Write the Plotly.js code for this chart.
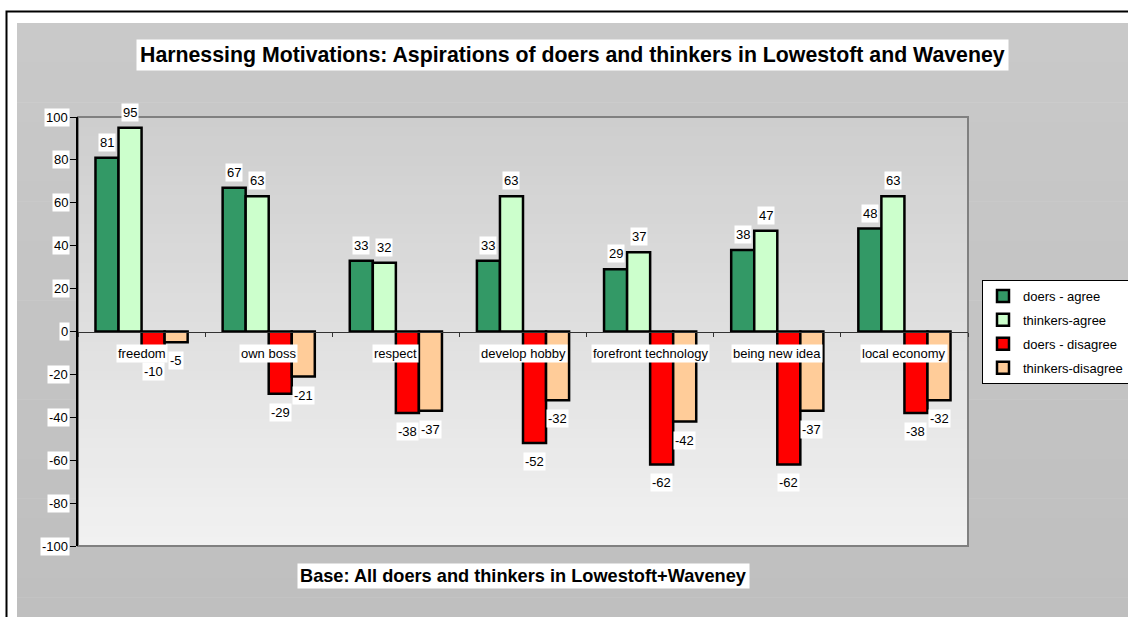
<!DOCTYPE html>
<html>
<head>
<meta charset="utf-8">
<script src="https://cdn.plot.ly/plotly-3.0.1.min.js"></script>
<style>
  html, body { margin: 0; padding: 0; background: #ffffff; }
  #chart { width: 1128px; height: 617px; }
</style>
</head>
<body>
<div id="chart"></div>
<script>
// ---- data ----
var categories = ["freedom", "own boss", "respect", "develop hobby", "forefront technology", "being new idea", "local economy"];
var doersAgree = [81, 67, 33, 33, 29, 38, 48];
var thinkersAgree = [95, 63, 32, 63, 37, 47, 63];
var doersDisagree = [-10, -29, -38, -52, -62, -62, -38];
var thinkersDisagree = [-5, -21, -37, -32, -42, -37, -32];
var seriesNames = ["doers - agree", "thinkers-agree", "doers - disagree", "thinkers-disagree"];
var yTickVals = [100, 80, 60, 40, 20, 0, -20, -40, -60, -80, -100];
var titleText = "Harnessing Motivations: Aspirations of doers and thinkers in Lowestoft and Waveney";
var footText = "Base: All doers and thinkers in Lowestoft+Waveney";

// ---- styling ----
var colors = ["#339966", "#CCFFCC", "#FF0000", "#FFCC99"];
var FONT = "Liberation Sans, Arial, sans-serif";
var W = 1128, H = 617;
var L = 78, R = 968, T = 117, B = 546;
var PW = R - L, PH = B - T;
var BARGAP = 0.275;
function px2x(px) { return (px - L) / PW; }
function px2y(py) { return (B - py) / PH; }

var allSeries = [doersAgree, thinkersAgree, doersDisagree, thinkersDisagree];
var traces = allSeries.map(function (vals, k) {
  return {
    type: "bar",
    name: seriesNames[k],
    x: categories,
    y: vals,
    marker: { color: colors[k], line: { color: "#000000", width: 2.5 } },
    legendgroup: "g" + k,
    hoverinfo: "skip"
  };
});

var shapes = [];
// outer black frame
shapes.push({ type: "rect", xref: "paper", yref: "paper", layer: "below",
  x0: px2x(6.5), x1: px2x(1200), y0: px2y(700), y1: px2y(11.5),
  line: { color: "#000000", width: 2 }, fillcolor: "#ffffff" });
// outer gray panel (subtle gradient)
var nOuter = 30;
for (var i = 0; i < nOuter; i++) {
  var ya = 23 + (617 - 23) * i / nOuter, yb = 23 + (617 - 23) * (i + 1) / nOuter + 0.5;
  var c = Math.round(201 - (201 - 191) * i / (nOuter - 1));
  shapes.push({ type: "rect", xref: "paper", yref: "paper", layer: "below",
    x0: px2x(17), x1: px2x(1200), y0: px2y(yb), y1: px2y(ya),
    line: { width: 0 }, fillcolor: "rgb(" + c + "," + c + "," + c + ")" });
}
// plot area gradient
var nIn = 44;
for (var j = 0; j < nIn; j++) {
  var y0p = j / nIn, y1p = (j + 1) / nIn + 0.002;
  var cc = Math.round(241 - (241 - 206) * j / (nIn - 1));
  shapes.push({ type: "rect", xref: "paper", yref: "paper", layer: "below",
    x0: 0, x1: 1, y0: y0p, y1: Math.min(y1p, 1),
    line: { width: 0 }, fillcolor: "rgb(" + cc + "," + cc + "," + cc + ")" });
}
// plot area border
shapes.push({ type: "rect", xref: "paper", yref: "paper", layer: "below",
  x0: 0, x1: 1, y0: 0, y1: 1, line: { color: "#808080", width: 2 } });

var annotations = [];
// title & footnote
annotations.push({ xref: "paper", yref: "paper", x: px2x(572), y: px2y(55),
  xanchor: "center", yanchor: "middle", showarrow: false,
  text: "<b>" + titleText + "</b>", bgcolor: "#ffffff", borderpad: 3,
  font: { family: FONT, size: 21.3, color: "#000000" } });
annotations.push({ xref: "paper", yref: "paper", x: px2x(523), y: px2y(576),
  xanchor: "center", yanchor: "middle", showarrow: false,
  text: "<b>" + footText + "</b>", bgcolor: "#ffffff", borderpad: 2,
  font: { family: FONT, size: 18.2, color: "#000000" } });
// y tick labels
yTickVals.forEach(function (v) {
  annotations.push({ xref: "paper", yref: "y", x: 0, y: v, xanchor: "right", yanchor: "middle",
    xshift: -8, showarrow: false, text: String(v), bgcolor: "#ffffff", borderpad: 1,
    font: { family: FONT, size: 13, color: "#000000" } });
});
// data labels
var bw = (1 - BARGAP) / 4;
allSeries.forEach(function (vals, k) {
  vals.forEach(function (v, i) {
    var pos = v >= 0;
    annotations.push({ xref: "x", yref: "y", x: i + (k - 1.5) * bw, y: v,
      xanchor: "center", yanchor: pos ? "bottom" : "top", yshift: pos ? 6 : -9,
      showarrow: false, text: String(v), bgcolor: "#ffffff", borderpad: 1,
      font: { family: FONT, size: 13, color: "#000000" } });
  });
});
// category labels
categories.forEach(function (c, i) {
  annotations.push({ xref: "x", yref: "y", x: i, y: 0, xanchor: "center", yanchor: "top",
    yshift: -12, showarrow: false, text: c, bgcolor: "#ffffff", borderpad: 1,
    font: { family: FONT, size: 13, color: "#000000" } });
});

var layout = {
  width: W, height: H,
  margin: { l: L, r: W - R, t: T, b: H - B, pad: 0, autoexpand: false },
  paper_bgcolor: "#ffffff",
  plot_bgcolor: "rgba(0,0,0,0)",
  font: { family: FONT, size: 13, color: "#000000" },
  barmode: "group", bargap: BARGAP, bargroupgap: 0,
  showlegend: true,
  legend: { x: px2x(982), y: px2y(280), xanchor: "left", yanchor: "top",
    bgcolor: "#ffffff", bordercolor: "#000000", borderwidth: 1,
    font: { family: FONT, size: 13, color: "#000000" },
    traceorder: "grouped", tracegroupgap: 4, itemclick: false },
  xaxis: { type: "category", anchor: "free", position: 0.5,
    showline: true, linecolor: "#333333", linewidth: 1,
    ticks: "outside", tickson: "boundaries", ticklen: 4, tickcolor: "#333333",
    showticklabels: false, showgrid: false, zeroline: false, fixedrange: true },
  yaxis: { range: [-100, 100], tickvals: yTickVals, showticklabels: false,
    showline: true, linecolor: "#000000", linewidth: 2,
    ticks: "outside", ticklen: 6, tickcolor: "#000000", tickwidth: 1,
    showgrid: false, zeroline: false, fixedrange: true },
  shapes: shapes,
  annotations: annotations
};

Plotly.newPlot("chart", traces, layout, { displayModeBar: false, staticPlot: true });
</script>
</body>
</html>
